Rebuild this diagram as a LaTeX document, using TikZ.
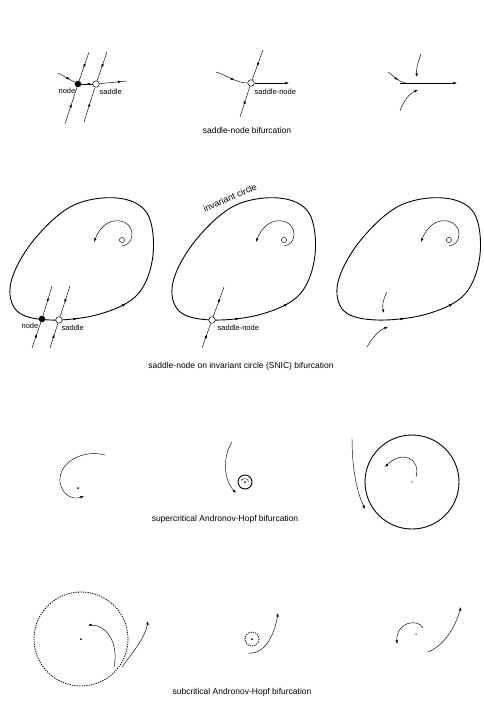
\documentclass[tikz,border=0pt]{standalone}
\usepackage{fontspec}
\setmainfont{Liberation Sans}
\usetikzlibrary{arrows.meta, decorations.markings}

\newcommand{\snicloop}{%
  plot[smooth cycle, tension=0.6] coordinates {(50,320) (100,314) (138,294)
    (153,255) (147,213) (117,198) (72,206) (33,241) (11,282) (17,311)}}

\begin{document}
\begin{tikzpicture}[
    x=1pt, y=-1pt,
    traj/.style={line width=0.45pt},
    orbit/.style={line width=0.9pt},
    unstable/.style={line width=0.8pt, dash pattern=on 1.3pt off 1.1pt},
    tip/.style={-{Latex[length=3.6pt,width=2.6pt]}},
    midarrow/.style={postaction={decorate}, decoration={markings,
        mark=at position #1 with {\arrow{Latex[length=3.6pt,width=2.6pt]}}}},
    midarrow/.default=0.55,
    stablept/.style={circle, fill=black, inner sep=0pt, minimum size=6.5pt},
    saddlept/.style={circle, draw, fill=white, line width=0.5pt,
                     inner sep=0pt, minimum size=6.5pt},
    halfpt/.style={circle, draw, fill=white, line width=0.5pt,
                   inner sep=0pt, minimum size=6.5pt,
                   path picture={\fill (path picture bounding box.south west)
                       rectangle (path picture bounding box.north);}},
    focus/.style={circle, fill=#1, inner sep=0pt, minimum size=2pt},
    focus/.default=black,
    lbl/.style={font=\fontsize{7.5}{8}\selectfont, inner sep=0.5pt},
    caption/.style={font=\fontsize{8.5}{10}\selectfont}
]
\useasboundingbox (0,0) rectangle (483,719);

% Saddle-node: before
\node[stablept] (n1) at (78,84) {};
\node[saddlept] (s1) at (96,84) {};
\coordinate (n1top) at (89,52);
\coordinate (n1bot) at (65,124);
\coordinate (s1top) at (107,52);
\coordinate (s1bot) at (84,122);
\coordinate (n1in) at (58,73);
\coordinate (s1out) at (127,81);
\draw[traj, midarrow] (n1top) -- (n1);
\draw[traj, midarrow] (n1bot) -- (n1);
\draw[traj, midarrow] (s1top) -- (s1);
\draw[traj, midarrow] (s1bot) -- (s1);
\draw[traj, midarrow=0.7] (n1in) -- (n1);
\draw[traj, midarrow] (s1) -- (n1);
\draw[traj, midarrow=0.8] (s1) -- (s1out);
\node[lbl, anchor=east] at (76,91) {node};
\node[lbl, anchor=west] at (99,92) {saddle};

% Saddle-node: at
\node[halfpt] (sn1) at (251,83) {};
\coordinate (sn1top) at (263,50);
\coordinate (sn1bot) at (240,117);
\coordinate (sn1in) at (216,72);
\coordinate (sn1out) at (289,83);
\draw[traj, midarrow] (sn1top) -- (sn1);
\draw[traj, midarrow] (sn1bot) -- (sn1);
\draw[traj, midarrow=0.6] (sn1in) .. controls (226,75) and (236,83) .. (sn1);
\draw[traj, tip] (sn1) -- (sn1out);
\node[lbl, anchor=west] at (254,92) {saddle-node};

% Saddle-node: after
\coordinate (g1a) at (400,83);
\coordinate (g1b) at (457,83);
\coordinate (g1in) at (388,72);
\coordinate (g1up) at (421,54);
\coordinate (g1upend) at (417,77);
\coordinate (g1lo) at (400,111);
\coordinate (g1loend) at (418,90);
\draw[traj, tip] (g1a) -- (g1b);
\draw[traj, midarrow=0.6] (g1in) .. controls (394,76) and (398,82) .. (406,83);
\draw[traj, tip] (g1up) .. controls (418,62) and (416,70) .. (g1upend);
\draw[traj, tip] (g1lo) .. controls (404,100) and (410,93) .. (g1loend);

\node[caption] (cap1) at (247,130) {saddle-node bifurcation};

% SNIC: before
\draw[orbit, midarrow=0.065, midarrow=0.945] \snicloop;
\coordinate (sp1) at (122,240);
\draw[traj] (sp1) circle (2.6);
\draw[traj, tip] (122,245.5) .. controls (130,246) and (134,236) .. (131,229)
    .. controls (126,217) and (104,216) .. (94,242);
\node[stablept] (n2) at (42,319) {};
\node[saddlept] (s2) at (59,320) {};
\coordinate (n2top) at (52,286);
\coordinate (n2bot) at (32,348);
\coordinate (s2top) at (70,286);
\coordinate (s2bot) at (50,348);
\draw[traj, midarrow] (n2top) -- (n2);
\draw[traj, midarrow] (n2bot) -- (n2);
\draw[traj, midarrow] (s2top) -- (s2);
\draw[traj, midarrow] (s2bot) -- (s2);
\node[lbl, anchor=east] at (39,326) {node};
\node[lbl, anchor=west] at (61,328) {saddle};

% SNIC: at
\begin{scope}[xshift=162pt]
\draw[orbit, midarrow=0.065, midarrow=0.945] \snicloop;
\coordinate (sp2) at (122,240);
\draw[traj] (sp2) circle (2.6);
\draw[traj, tip] (122,245.5) .. controls (130,246) and (134,236) .. (131,229)
    .. controls (126,217) and (104,216) .. (94,242);
\node[halfpt] (sn2) at (50,320) {};
\coordinate (sn2top) at (62,287);
\coordinate (sn2bot) at (40,348);
\draw[traj, midarrow] (sn2top) -- (sn2);
\draw[traj, midarrow] (sn2bot) -- (sn2);
\node[lbl, anchor=west] at (55,328) {saddle-node};
\node[lbl, font=\fontsize{9}{10}\selectfont, rotate=24] at (68,198) {invariant circle};
\end{scope}

% SNIC: after
\begin{scope}[xshift=327pt]
\draw[orbit, midarrow=0.065, midarrow=0.945] \snicloop;
\coordinate (sp3) at (122,240);
\draw[traj] (sp3) circle (2.6);
\draw[traj, tip] (122,245.5) .. controls (130,246) and (134,236) .. (131,229)
    .. controls (126,217) and (104,216) .. (94,242);
\coordinate (g2up) at (60,292);
\coordinate (g2upend) at (57,313);
\coordinate (g2lo) at (40,347);
\coordinate (g2loend) at (61,327);
\draw[traj, tip] (g2up) .. controls (56,299) and (55,306) .. (g2upend);
\draw[traj, tip] (g2lo) .. controls (45,338) and (52,330) .. (g2loend);
\end{scope}

\node[caption] (cap2) at (241,366) {saddle-node on invariant circle (SNIC) bifurcation};

% Supercritical Andronov-Hopf
\node[focus] (f1) at (78,488) {};
\coordinate (h1in) at (105,455);
\coordinate (h1end) at (84,496);
\draw[traj, tip] (h1in) .. controls (82,449) and (58,463) .. (60,482)
    .. controls (62,496) and (74,500) .. (h1end);

\node[focus] (f2) at (245,482) {};
\draw[orbit] (f2) circle (7);
\draw[line width=0.35pt, -{Latex[length=1.8pt,width=1.4pt]}] (248.5,482)
    .. controls (248.5,478) and (243,478) .. (241.5,481);
\coordinate (h2in) at (232,442);
\coordinate (h2end) at (236,493);
\draw[traj, tip] (h2in) .. controls (222,458) and (224,480) .. (h2end);

\node[focus=black!45] (f3) at (412,482) {};
\draw[orbit] (f3) circle (47);
\coordinate (h3in) at (416,477);
\coordinate (h3end) at (385,467);
\draw[traj, tip] (h3in) .. controls (421,458) and (402,450) .. (h3end);
\coordinate (h3out) at (352,438);
\coordinate (h3outend) at (365,509);
\draw[traj, tip] (h3out) .. controls (352,466) and (356,490) .. (h3outend);

\node[caption] (cap3) at (225,519) {supercritical Andronov-Hopf bifurcation};

% Subcritical Andronov-Hopf
\node[focus] (u1) at (81,639) {};
\draw[unstable] (u1) circle (47);
\coordinate (k1a) at (114,667);
\coordinate (k1aend) at (88,625);
\draw[traj, tip] (k1a) .. controls (119,642) and (106,625) .. (k1aend);
\coordinate (k1b) at (122,667);
\coordinate (k1bend) at (148,621);
\draw[traj, tip] (k1b) .. controls (133,652) and (145,638) .. (k1bend);

\node[focus] (u2) at (252,639) {};
\draw[unstable] (u2) circle (7);
\coordinate (k2a) at (248,653);
\coordinate (k2aend) at (278,613);
\draw[traj, tip] (k2a) .. controls (266,655) and (275,632) .. (k2aend);

\node[focus=black!45] (u3) at (416,634) {};
\coordinate (k3a) at (423,628);
\coordinate (k3aend) at (397,644);
\draw[traj, tip] (k3a) .. controls (418,618) and (396,622) .. (k3aend);
\coordinate (k3b) at (428,652);
\coordinate (k3bend) at (461,607);
\draw[traj, tip] (k3b) .. controls (445,645) and (455,627) .. (k3bend);

\node[caption] (cap4) at (242,692) {subcritical Andronov-Hopf bifurcation};

\end{tikzpicture}
\end{document}
